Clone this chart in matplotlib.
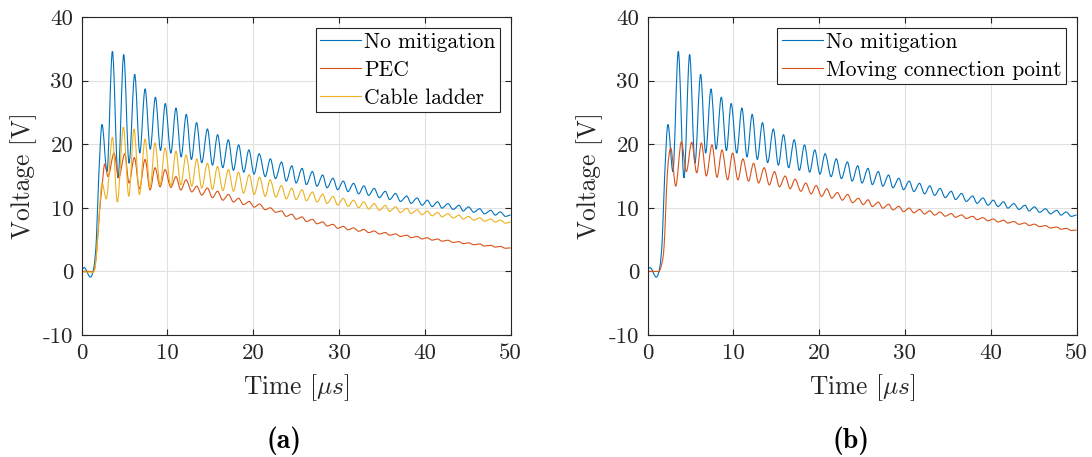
import matplotlib
matplotlib.use("Agg")
import matplotlib.pyplot as plt
from matplotlib.path import Path
from matplotlib.patches import PathPatch
from matplotlib.lines import Line2D

# ---- measured transients (time in microseconds, voltage in volts) ----
# Both panels share the unmitigated response.
no_mit_t = [0.0, 0.3, 1.02, 1.45, 1.72, 2.0, 2.38, 2.96, 3.59, 4.25, 4.91, 5.53,
            6.19, 6.78, 7.4, 8.0, 8.6, 9.2, 9.75, 10.4, 11.0, 11.6, 12.2, 12.8,
            13.4, 14.0, 14.67, 15.25, 15.85, 16.45, 17.1, 17.7, 18.3, 18.9, 19.5,
            20.1, 20.7, 21.4, 22.0, 22.6, 23.3, 23.85, 24.5, 25.0, 25.7, 26.2,
            26.9, 27.43, 28.1, 28.6, 29.3, 29.84, 30.5, 31.05, 31.7, 32.3, 32.9,
            33.46, 34.1, 34.7, 35.4, 35.9, 36.6, 37.15, 37.9, 38.4, 39.1, 39.68,
            40.3, 40.85, 41.5, 42.0, 42.7, 43.3, 44.0, 44.47, 45.1, 45.7, 46.4,
            46.95, 47.7, 48.2, 48.8, 49.4, 50.0]
no_mit_v = [0.3, 0.6, -0.9, 0.8, 5.0, 15.0, 23.1, 15.7, 34.6, 14.7, 34.1, 17.0,
            31.0, 18.6, 28.7, 19.2, 27.4, 19.0, 26.4, 18.6, 25.7, 18.0, 24.7, 17.6,
            23.4, 17.1, 22.4, 16.7, 21.5, 16.3, 20.7, 15.9, 19.9, 15.6, 19.1,
            15.3, 18.5, 14.9, 17.7, 14.6, 17.2, 14.2, 16.6, 13.9, 16.2, 13.65,
            15.7, 13.4, 15.15, 13.15, 14.65, 12.85, 14.2, 12.55, 13.85, 12.2, 13.45,
            11.95, 13.05, 11.6, 12.6, 11.3, 12.25, 11.0, 11.85, 10.7, 11.55, 10.4,
            11.2, 10.2, 10.95, 9.95, 10.65, 9.75, 10.4, 9.5, 10.15, 9.3, 9.85,
            9.05, 9.6, 8.85, 9.35, 8.65, 8.85]

pec_t = [0.0, 1.0, 1.5, 1.75, 2.1, 2.42, 2.69, 3.08, 3.78, 4.33, 5.03, 5.53,
         6.15, 6.74, 7.4, 7.98, 8.56, 9.15, 9.73, 10.4, 11.0, 11.56, 12.18, 12.84,
         13.43, 14.0, 14.67, 15.25, 15.84, 16.46, 17.12, 17.7, 18.29, 18.87, 19.54,
         20.12, 20.74, 21.4, 21.98, 22.64, 23.3, 23.85, 24.5, 25.0, 25.7, 26.2,
         26.9, 27.43, 28.1, 28.6, 29.3, 29.84, 30.5, 31.05, 31.7, 32.3, 32.9,
         33.46, 34.1, 34.7, 35.4, 35.9, 36.6, 37.15, 37.9, 38.4, 39.1, 39.68,
         40.3, 40.85, 41.5, 42.0, 42.7, 43.3, 44.0, 44.47, 45.1, 45.7, 46.4,
         46.95, 47.7, 48.2, 48.8, 49.4, 50.0]
pec_v = [0.0, 0.0, 0.3, 3.0, 9.5, 13.9, 16.9, 14.9, 18.6, 14.7, 18.5, 13.9,
         17.9, 13.0, 17.6, 12.8, 16.3, 13.3, 16.0, 13.2, 14.9, 12.8, 14.4, 12.5,
         13.4, 12.0, 13.1, 11.6, 12.6, 11.2, 12.1, 10.9, 11.5, 10.5, 11.0,
         10.1, 10.6, 9.7, 10.0, 9.3, 9.5, 8.65, 9.0, 8.2, 8.57, 7.85,
         8.18, 7.49, 7.79, 7.14, 7.4, 6.78, 7.08, 6.54, 6.84, 6.31, 6.6,
         6.1, 6.35, 5.88, 6.11, 5.69, 5.9, 5.5, 5.69, 5.31, 5.49, 5.11,
         5.29, 4.92, 5.09, 4.75, 4.9, 4.55, 4.68, 4.36, 4.5, 4.19, 4.31,
         3.99, 4.1, 3.82, 3.93, 3.64, 3.7]

ladder_t = [0.0, 1.0, 1.5, 1.75, 2.05, 2.38, 2.88, 3.59, 4.17, 4.87, 5.5,
            6.11, 6.74, 7.4, 7.98, 8.56, 9.15, 9.73, 10.4, 11.0, 11.56, 12.18,
            12.84, 13.43, 14.0, 14.67, 15.25, 15.84, 16.46, 17.12, 17.7, 18.29,
            18.87, 19.54, 20.12, 20.74, 21.4, 21.98, 22.64, 23.3, 23.85, 24.5,
            25.0, 25.7, 26.2, 26.9, 27.43, 28.1, 28.6, 29.3, 29.84, 30.5, 31.05,
            31.7, 32.3, 32.9, 33.46, 34.1, 34.7, 35.4, 35.9, 36.6, 37.15, 37.9,
            38.4, 39.1, 39.68, 40.3, 40.85, 41.5, 42.0, 42.7, 43.3, 44.0, 44.47,
            45.1, 45.7, 46.4, 46.95, 47.7, 48.2, 48.8, 49.4, 50.0]
ladder_v = [-0.1, -0.1, 0.2, 3.0, 9.0, 13.9, 11.4, 21.1, 10.9, 22.7, 11.8,
            22.4, 12.1, 20.8, 13.1, 20.2, 13.6, 19.4, 13.4, 18.9, 13.6, 18.3,
            13.4, 17.7, 13.1, 17.0, 12.9, 16.5, 12.7, 16.0, 12.6, 15.6,
            12.3, 15.2, 12.1, 14.8, 11.8, 14.4, 11.7, 13.5, 11.4, 13.1,
            11.3, 12.84, 11.12, 12.49, 10.9, 12.15, 10.68, 11.8, 10.44, 11.48, 10.22,
            11.21, 10.01, 10.94, 9.81, 10.66, 9.6, 10.38, 9.43, 10.16, 9.26, 9.92,
            9.09, 9.69, 8.91, 9.48, 8.74, 9.27, 8.58, 9.06, 8.39, 8.83, 8.22,
            8.64, 8.06, 8.43, 7.9, 8.24, 7.74, 8.08, 7.58, 7.75]

moving_t = [0.0, 1.16, 1.55, 1.93, 2.32, 2.71, 3.29, 3.95, 4.53, 5.15, 5.74,
            6.28, 6.86, 7.52, 8.1, 8.68, 9.34, 9.92, 10.54, 11.12, 11.78, 12.36,
            12.95, 13.6, 14.19, 14.8, 15.38, 16.05, 16.63, 17.2, 17.87, 18.45,
            19.07, 19.65, 20.3, 20.9, 21.48, 22.13, 22.7, 23.33, 23.9, 24.57,
            25.15, 25.7, 26.2, 26.9, 27.43, 28.1, 28.6, 29.3, 29.84, 30.5, 31.05,
            31.7, 32.3, 32.9, 33.46, 34.1, 34.7, 35.4, 35.9, 36.6, 37.15, 37.9,
            38.4, 39.1, 39.68, 40.3, 40.85, 41.5, 42.0, 42.7, 43.3, 44.0, 44.47,
            45.1, 45.7, 46.4, 46.95, 47.7, 48.2, 48.8, 49.4, 50.0]
moving_v = [0.0, 0.0, 0.6, 3.9, 15.5, 19.4, 13.4, 20.4, 15.7, 20.3, 15.5,
            20.2, 15.0, 19.9, 14.8, 19.1, 14.4, 18.6, 14.4, 17.7, 14.2, 17.0,
            13.9, 16.3, 13.6, 15.7, 13.3, 15.0, 13.0, 14.5, 12.6, 13.9,
            12.2, 13.5, 11.8, 13.0, 11.5, 12.4, 11.2, 12.1, 10.8, 11.5,
            10.5, 11.26, 10.2, 10.9, 9.93, 10.57, 9.67, 10.23, 9.39, 9.96, 9.2,
            9.75, 9.02, 9.54, 8.86, 9.34, 8.68, 9.1, 8.51, 8.88, 8.33, 8.66,
            8.14, 8.45, 7.95, 8.25, 7.77, 8.04, 7.6, 7.84, 7.4, 7.62, 7.22,
            7.43, 7.03, 7.2, 6.82, 6.97, 6.63, 6.77, 6.43, 6.5]

x_ticks = [0, 10, 20, 30, 40, 50]
y_ticks = [-10, 0, 10, 20, 30, 40]
y_tick_labels = ["-10", "0", "10", "20", "30", "40"]

panel_a = [("No mitigation", no_mit_t, no_mit_v, "#0072BD"),
           ("PEC", pec_t, pec_v, "#D95319"),
           ("Cable ladder", ladder_t, ladder_v, "#EDB120")]
panel_b = [("No mitigation", no_mit_t, no_mit_v, "#0072BD"),
           ("Moving connection point", moving_t, moving_v, "#D95319")]


def hermite_path(t, v):
    """Smooth cubic path through the samples, flat at every local extremum."""
    n = len(t)
    slopes = []
    for i in range(n):
        if i == 0 or i == n - 1:
            slopes.append(0.0)
            continue
        d0 = v[i] - v[i - 1]
        d1 = v[i + 1] - v[i]
        if d0 * d1 <= 0:
            slopes.append(0.0)
        else:
            slopes.append((v[i + 1] - v[i - 1]) / (t[i + 1] - t[i - 1]))
    verts = [(t[0], v[0])]
    codes = [Path.MOVETO]
    for i in range(n - 1):
        dt = t[i + 1] - t[i]
        verts.append((t[i] + dt / 3, v[i] + slopes[i] * dt / 3))
        verts.append((t[i + 1] - dt / 3, v[i + 1] - slopes[i + 1] * dt / 3))
        verts.append((t[i + 1], v[i + 1]))
        codes += [Path.CURVE4] * 3
    return Path(verts, codes)


plt.rcParams["font.family"] = "cmr10"
plt.rcParams["mathtext.fontset"] = "cm"
plt.rcParams["axes.unicode_minus"] = False
plt.rcParams["axes.formatter.use_mathtext"] = True

ink = "#262626"
fig = plt.figure(figsize=(10.92, 4.57), dpi=100)
ax_a = fig.add_axes([81.6 / 1092, 122 / 457, 429 / 1092, 318 / 457])
ax_b = fig.add_axes([647.5 / 1092, 122 / 457, 429 / 1092, 318 / 457])

for ax, series, tag, tag_x in ((ax_a, panel_a, "(a)", 284), (ax_b, panel_b, "(b)", 851)):
    handles = []
    for name, t, v, c in series:
        ax.add_patch(PathPatch(hermite_path(t, v), fill=False, edgecolor=c,
                               lw=0.8, transform=ax.transData))
        handles.append(Line2D([], [], color=c, lw=0.8, label=name))
    ax.set_xlim(0, 50)
    ax.set_ylim(-10, 40)
    ax.set_xticks(x_ticks)
    ax.set_xticklabels([str(x) for x in x_ticks])
    ax.set_yticks(y_ticks)
    ax.set_yticklabels(y_tick_labels)
    ax.grid(True, color="#e1e1e1", lw=0.8)
    ax.set_axisbelow(True)
    for sp in ax.spines.values():
        sp.set_color(ink)
        sp.set_linewidth(0.8)
    ax.tick_params(direction="in", top=True, right=True, length=4, width=0.8,
                   colors=ink, labelsize=16.5, pad=6)
    ax.set_xlabel(r"Time [$\mu s$]", fontsize=18.3, color=ink, labelpad=7)
    ax.set_ylabel("Voltage [V]", fontsize=18.3, color=ink, labelpad=4)
    leg = ax.legend(handles=handles, loc="upper right", fontsize=15.5,
                    frameon=True, fancybox=False, edgecolor=ink, framealpha=1.0,
                    borderaxespad=0.5, handlelength=1.9, handletextpad=0.15,
                    borderpad=0.2, labelspacing=0.4)
    leg.get_frame().set_linewidth(0.8)
    fig.text(tag_x / 1092, 1 - 441 / 457, tag, family="cmb10",
             fontsize=20, ha="center", va="center")

fig.savefig("out.png", dpi=100)
